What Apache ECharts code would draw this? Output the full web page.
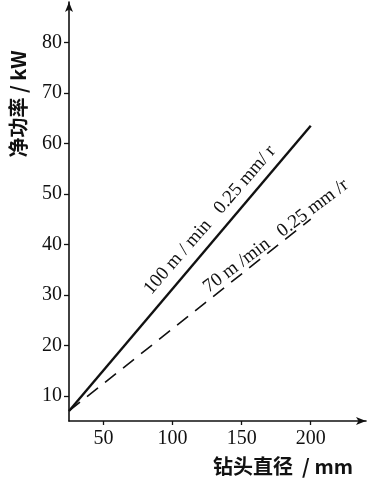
<!DOCTYPE html>
<html><head><meta charset="utf-8">
<script src="https://cdn.jsdelivr.net/npm/echarts@6/dist/echarts.min.js"></script>
<style>html,body{margin:0;padding:0;background:#fff}#c{width:370px;height:480px}</style>
</head><body><div id="c"></div>
<script>
const diameters = [25, 200];
const power100 = [7, 63.5];
const power70 = [7, 45];
const xTicks = [50, 100, 150, 200];
const yTicks = [10, 20, 30, 40, 50, 60, 70, 80];
const label100 = '100 m / min   0.25 mm/ r';
const label70 = '70 m /min   0.25 mm /r';
const xName = '钻头直径  / mm';
const yName = '净功率 / kW';

const serif = '"Liberation Serif", "DejaVu Serif", serif';
const chart = echarts.init(document.getElementById('c'));
chart.setOption({
  animation: false,
  backgroundColor: '#fff',
  grid: { left: 69, right: 4, top: 2, bottom: 59 },
  xAxis: {
    type: 'value', min: 25, max: 240,
    axisLine: { lineStyle: { color: '#111', width: 1.6 }, symbol: ['none', 'arrow'], symbolSize: [6, 10] },
    axisTick: { show: true, length: 4, inside: false, customValues: xTicks, lineStyle: { color: '#111', width: 1.3 } },
    axisLabel: { customValues: xTicks, color: '#111', fontFamily: serif, fontSize: 20, margin: 8 },
    splitLine: { show: false }
  },
  yAxis: {
    type: 'value', min: 5, max: 88,
    axisLine: { show: true, lineStyle: { color: '#111', width: 1.6 }, symbol: ['none', 'arrow'], symbolSize: [6, 10] },
    axisTick: { show: true, length: 5, customValues: yTicks, lineStyle: { color: '#111', width: 1.3 } },
    axisLabel: { customValues: yTicks, color: '#111', fontFamily: serif, fontSize: 20, margin: 7 },
    splitLine: { show: false }
  },
  series: [
    { type: 'line', data: diameters.map((d, i) => [d, power100[i]]), symbol: 'none',
      lineStyle: { color: '#111', width: 2.4 } },
    { type: 'line', data: diameters.map((d, i) => [d, power70[i]]), symbol: 'none',
      lineStyle: { color: '#111', width: 1.6, type: [14, 9] } }
  ],
  graphic: [
    { type: 'text', x: 210, y: 220, rotation: 49 * Math.PI / 180,
      style: { text: label100, fontFamily: serif, fontSize: 19, fill: '#111', align: 'center', verticalAlign: 'middle' } },
    { type: 'text', x: 276, y: 236, rotation: 37 * Math.PI / 180,
      style: { text: label70, fontFamily: serif, fontSize: 19, fill: '#111', align: 'center', verticalAlign: 'middle' } },
    { type: 'text', x: 18, y: 104, rotation: Math.PI / 2,
      style: { text: yName, fontFamily: '"Noto Sans CJK SC", sans-serif', fontWeight: 'bold', fontSize: 20, fill: '#111', align: 'center', verticalAlign: 'middle' } },
    { type: 'text', x: 283, y: 466,
      style: { text: xName, fontFamily: '"Noto Sans CJK SC", sans-serif', fontWeight: 'bold', fontSize: 20, fill: '#111', align: 'center', verticalAlign: 'middle' } }
  ]
});
</script></body></html>
